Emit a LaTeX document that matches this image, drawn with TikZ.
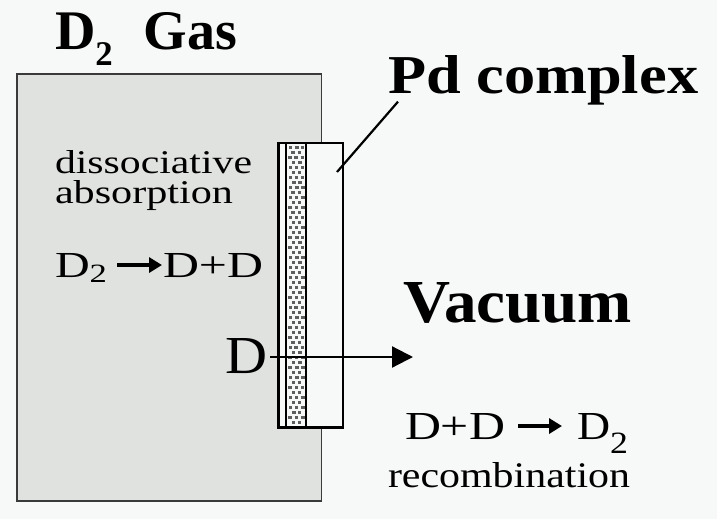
\documentclass[tikz,border=0pt]{standalone}
\usepackage{fontspec}
\setmainfont{Liberation Serif}
\usepackage{graphicx}
\usetikzlibrary{arrows.meta,calc}
\definecolor{bg}{HTML}{F6F9F7}
\definecolor{gasgray}{HTML}{E0E2DF}
\definecolor{dotgray}{HTML}{5E5E5E}
\definecolor{edgegray}{HTML}{3A3A3A}
\newcommand{\subtwo}[2]{\raisebox{#2}{\scalebox{#1}{2}}}
\begin{document}
\begin{tikzpicture}[x=1pt,y=-1pt,
  txt/.style={anchor=base west, inner sep=0pt, outer sep=0pt},
  wall/.style={line width=2.6pt, black},
  boldarrow/.style={line width=4pt, -{Triangle[length=13pt,width=15pt]}},
  darrow/.style={line width=2.2pt, -{Triangle[length=21pt,width=21pt]}},
  leader/.style={line width=2.2pt}
]
\fill[bg] (0,0) rectangle (717,519);
\useasboundingbox (0,0) rectangle (717,519);
% gas chamber
\filldraw[fill=gasgray, draw=edgegray, line width=1.5pt] (17,74) rectangle (321.5,501);
% membrane
\fill[bg] (278.7,143) rectangle (342.8,427.5);
\pgfmathsetseed{5}
\foreach \j in {0,...,55} {
  \pgfmathsetmacro{\yy}{145.5+\j*5}
  \pgfmathsetmacro{\off}{mod(\j,2)*3.1}
  \foreach \i in {0,1,2} {
    \pgfmathsetmacro{\xx}{288.2+\off+\i*6.2+rnd*0.9}
    \ifdim \xx pt<302pt \fill[dotgray] (\xx,\yy) rectangle ++(3.4,3.4); \fi
  }
}
\draw[wall] (278.7,143) rectangle (342.8,427.5);
\draw[wall] (286,143) -- (286,427.5);
\draw[wall] (305.8,143) -- (305.8,427.5);
% texts
\node[txt] (gas) at (55,50) {\resizebox{182pt}{37pt}{\bfseries D\subtwo{0.62}{-0.27em}\hspace{0.55em}Gas}};
\node[txt] (pd) at (388,93) {\resizebox{310pt}{38pt}{\bfseries Pd complex}};
\node[txt] (diss) at (55,173) {\resizebox{197pt}{23pt}{dissociative}};
\node[txt] (abs) at (55,203) {\resizebox{178pt}{23pt}{absorption}};
\node[txt] (d2a) at (55,277) {\resizebox{52pt}{24pt}{D\subtwo{0.72}{-0.14em}}};
\node[txt] (dda) at (163,277) {\resizebox{100pt}{24pt}{D+D}};
\node[txt] (dl) at (225,373) {\resizebox{42pt}{35pt}{D}};
\node[txt] (vac) at (403,322) {\resizebox{229pt}{40pt}{\bfseries Vacuum}};
\node[txt] (ddb) at (405,439) {\resizebox{100pt}{26pt}{D+D}};
\node[txt] (d2b) at (577,439) {\resizebox{51pt}{26pt}{D\subtwo{0.78}{-0.36em}}};
\node[txt] (rec) at (388,487) {\resizebox{242pt}{25pt}{recombination}};
% arrows
\draw[boldarrow, shorten <=10pt, shorten >=1pt] (d2a.east |- dda.west) -- (dda.west);
\draw[boldarrow, shorten <=13pt, shorten >=15pt] (ddb.east) -- (ddb.east -| d2b.west);
\coordinate (tip) at (413,357);
\draw[darrow, shorten <=3pt] (dl.east |- tip) -- (tip);
% leader for Pd complex
\coordinate (pdfoot) at (337,172);
\draw[leader] (pdfoot) -- ($(pd.south west)+(10,-3)$);
\end{tikzpicture}
\end{document}
